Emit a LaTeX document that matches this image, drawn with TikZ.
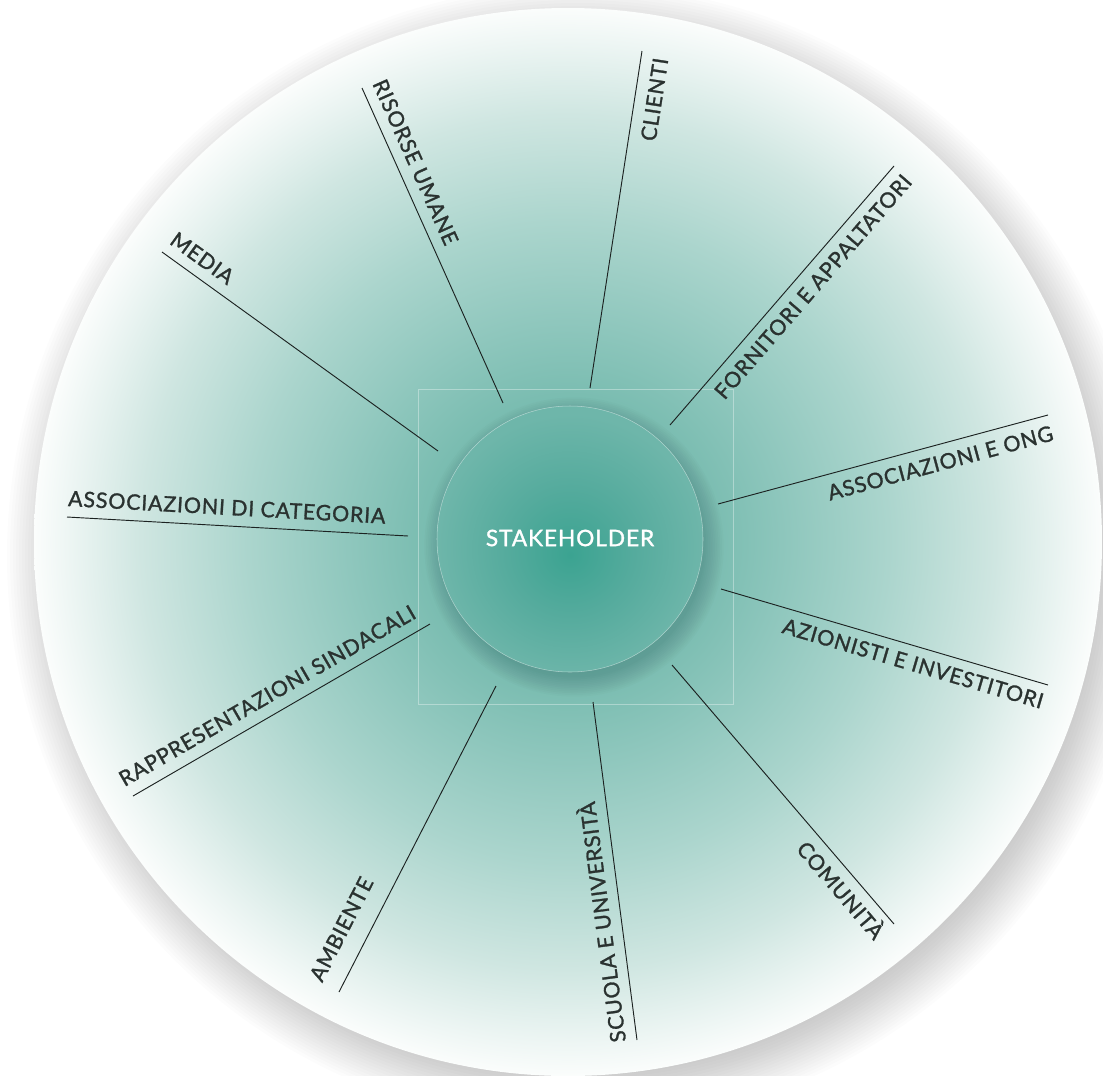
\documentclass[tikz,border=0pt]{standalone}
\usepackage{fontspec}
\setmainfont{Lato}
\newfontfamily\labfont[LetterSpace=4,FakeBold=1.3]{Lato}
\usetikzlibrary{calc}
\definecolor{c0}{HTML}{3FA594}
\definecolor{c1}{HTML}{79BCB0}
\definecolor{c2}{HTML}{8DC6BC}
\definecolor{c3}{HTML}{ABD5CD}
\definecolor{c4}{HTML}{CFE6E1}
\definecolor{c5}{HTML}{EEF6F4}
\definecolor{c6}{HTML}{FBFDFC}
\definecolor{i0}{HTML}{3BA391}
\definecolor{i1}{HTML}{55AB9D}
\definecolor{i2}{HTML}{6EB6AA}
\definecolor{txt}{HTML}{2A3230}
\definecolor{linec}{HTML}{1C2221}
\pgfdeclareradialshading{bigglow}{\pgfpoint{0bp}{0bp}}{color(0bp)=(c0); color(6.6bp)=(c1); color(10bp)=(c2); color(15bp)=(c3); color(20bp)=(c4); color(23.5bp)=(c5); color(25bp)=(c6); color(50bp)=(c6)}
\pgfdeclareradialshading{innerglow}{\pgfpoint{0bp}{-3bp}}{color(0bp)=(i0); color(12bp)=(i1); color(25bp)=(i2); color(50bp)=(i2)}
\tikzset{
  ray/.style={draw=linec, line width=0.7pt},
  lab/.style={font=\labfont\fontsize{16}{18}\selectfont, text=txt, inner sep=0pt},
  stk/.style={font=\labfont\fontsize{17}{20}\selectfont, text=white, inner sep=0pt},
}
% #1 name, #2 outer, #3 inner, #4 along, #5 baseline offset, #6 text
\newcommand\abovelab[6]{\path let \p1=($(#3)-(#2)$), \n1={atan2(\y1,\x1)} in
  node[lab, rotate=\n1, anchor=base west] (#1) at ($($(#2)!#4!(#3)$)!#5!90:(#3)$) {#6};}
\newcommand\belowlab[6]{\path let \p1=($(#2)-(#3)$), \n1={atan2(\y1,\x1)} in
  node[lab, rotate=\n1, anchor=base east] (#1) at ($($(#2)!#4!(#3)$)!#5!90:(#3)$) {#6};}
\begin{document}
\begin{tikzpicture}[x=0.75pt,y=-0.75pt]
\useasboundingbox (0,0) rectangle (1103,1075);
% outer shadow
\foreach \k in {0,...,17}{\fill[black, opacity=0.013] (578,556) circle [radius={390pt+2.25pt*\k}];}
% big disc
\shade[shading=bigglow] (568,542) circle [radius=400.5pt];
% frame
\draw[white, opacity=0.35, line width=0.6pt] (418,389) rectangle (733,704);
% inner shadow
\foreach \k in {0,...,11}{\fill[black, opacity=0.011] (574,547) circle [radius={98pt+1.3pt*\k}];}
\shade[shading=innerglow] (570,539) circle [radius=99.75pt];
\draw[white, opacity=0.45, line width=0.4pt] (570,539) circle [radius=99.75pt];
\node[stk] (center) at (570,538) {STAKEHOLDER};
% end points
\coordinate (mediaO) at (162,252); \coordinate (mediaI) at (438,451);
\coordinate (risO) at (362,88);    \coordinate (risI) at (503,403);
\coordinate (cliO) at (642,51);    \coordinate (cliI) at (590,388);
\coordinate (forO) at (894,166);   \coordinate (forI) at (670,425);
\coordinate (ongO) at (1048,415);  \coordinate (ongI) at (718,504);
\coordinate (aziO) at (1048,685);  \coordinate (aziI) at (721,589);
\coordinate (comO) at (894,924);   \coordinate (comI) at (672,665);
\coordinate (scuO) at (637,1040);  \coordinate (scuI) at (593,702);
\coordinate (ambO) at (339,992);   \coordinate (ambI) at (496,686);
\coordinate (rapO) at (133,796);   \coordinate (rapI) at (430,624);
\coordinate (catO) at (67,517);    \coordinate (catI) at (408,536);
\foreach \n in {media,ris,cli,for,ong,azi,com,scu,amb,rap,cat}{\draw[ray] (\n I) -- (\n O);}
% labels
\abovelab{tmedia}{mediaO}{mediaI}{0pt}{8.25pt}{MEDIA}
\abovelab{tris}{risO}{risI}{0pt}{8.25pt}{RISORSE UMANE}
\abovelab{tcat}{catO}{catI}{0pt}{8.25pt}{ASSOCIAZIONI DI CATEGORIA}
\abovelab{trap}{rapO}{rapI}{-2.25pt}{9pt}{RAPPRESENTAZIONI SINDACALI}
\abovelab{tamb}{ambO}{ambI}{0pt}{14.25pt}{AMBIENTE}
\abovelab{tscu}{scuO}{scuI}{0pt}{8.25pt}{SCUOLA E UNIVERSITÀ}
\belowlab{tcli}{cliO}{cliI}{3pt}{20.5pt}{CLIENTI}
\belowlab{tfor}{forO}{forI}{0pt}{19pt}{FORNITORI E APPALTATORI}
\belowlab{tong}{ongO}{ongI}{0pt}{19.4pt}{ASSOCIAZIONI E ONG}
\belowlab{tazi}{aziO}{aziI}{0pt}{18.7pt}{AZIONISTI E INVESTITORI}
\belowlab{tcom}{comO}{comI}{0pt}{19.8pt}{COMUNITÀ}
\end{tikzpicture}
\end{document}
